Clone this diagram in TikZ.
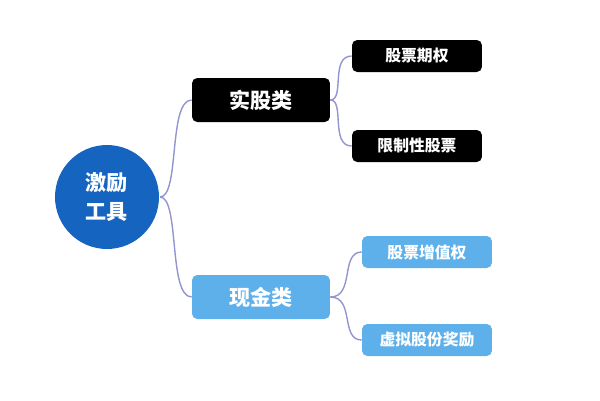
\documentclass[tikz,border=0pt]{standalone}
\usepackage{fontspec}
\newfontfamily\cjk{Noto Sans CJK SC}
\begin{document}
\begin{tikzpicture}[x=0.02cm,y=-0.02cm,
  box/.style={rounded corners=3pt,font=\cjk\bfseries,minimum height=0.64cm,inner sep=0pt},
  big/.style={box,minimum width=2.76cm,minimum height=0.88cm,font=\cjk\bfseries\large},
  small/.style={box,minimum width=2.6cm,font=\cjk\bfseries\small},
  link/.style={draw=gray!60!blue!60,line width=0.8pt}]
\useasboundingbox (0,0) rectangle (600,400);
\node[circle,fill={rgb,255:red,21;green,101;blue,192},minimum size=2.08cm,text=white,font=\cjk\bfseries\large,align=center] (root) at (107,197) {激励\\[2pt]工具};
\node[big,fill=black,text=white] (a) at (261,100) {实股类};
\node[big,fill={rgb,255:red,94;green,176;blue,235},text=white] (b) at (261,297) {现金类};
\node[small,fill=black,text=white] (a1) at (417,56) {股票期权};
\node[small,fill=black,text=white] (a2) at (417,146) {限制性股票};
\node[small,fill={rgb,255:red,94;green,176;blue,235},text=white] (b1) at (427,252) {股票增值权};
\node[small,fill={rgb,255:red,94;green,176;blue,235},text=white] (b2) at (427,340) {虚拟股份奖励};
\coordinate (rr) at (160,197);
\draw[link] (rr) .. controls (180,197) and (168,100) .. (a.west);
\draw[link] (rr) .. controls (180,197) and (168,297) .. (b.west);
\draw[link] (a.east) .. controls (345,100) and (330,56) .. (a1.west);
\draw[link] (a.east) .. controls (345,100) and (330,146) .. (a2.west);
\draw[link] (b.east) .. controls (355,297) and (340,252) .. (b1.west);
\draw[link] (b.east) .. controls (355,297) and (340,340) .. (b2.west);
\end{tikzpicture}
\end{document}
